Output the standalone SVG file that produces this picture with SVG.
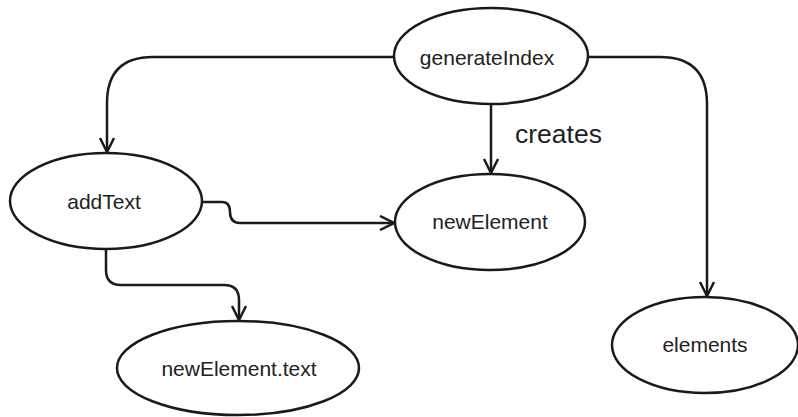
<svg xmlns="http://www.w3.org/2000/svg" width="798" height="417" viewBox="0 0 798 417">
<style>
.n ellipse{fill:#fff;stroke:#1a1a1a;stroke-width:2.5}
.n text{font-family:"Liberation Sans",Arial,sans-serif;font-size:21px;fill:#222;text-anchor:middle;dominant-baseline:central}
.c path{fill:none;stroke:#1a1a1a;stroke-width:2.5;marker-end:url(#ah)}
.lbl{font-family:"Liberation Sans",Arial,sans-serif;font-size:26.5px;fill:#222}
</style>
<defs>
<marker id="ah" viewBox="0 0 16 16" refX="15" refY="8" markerWidth="16" markerHeight="16" markerUnits="userSpaceOnUse" orient="auto">
<path d="M1,1 L15,8 L1,15" fill="none" stroke="#1a1a1a" stroke-width="2.5"/>
</marker>
</defs>
<g class="c" id="connectors">
<path d="M394,57 H153 Q107,57 107,103 V152"/>
<path d="M491,104 V173"/>
<path d="M588,57 H660 Q707,57 707,104 V296"/>
<path d="M202,202 H222 Q230,202 230,212 Q230,223 240,223 H394"/>
<path d="M106,249 V270 Q106,285 121,285 H224 Q239,285 239,300 V320"/>
</g>
<text class="lbl" x="515" y="143">creates</text>
<g class="n" id="generateIndex"><ellipse cx="491" cy="56" rx="97" ry="48"/><text x="487" y="57">generateIndex</text></g>
<g class="n" id="addText"><ellipse cx="106" cy="201" rx="96" ry="48"/><text x="104" y="201">addText</text></g>
<g class="n" id="newElement"><ellipse cx="490" cy="222" rx="95" ry="48"/><text x="490" y="221">newElement</text></g>
<g class="n" id="newElementText"><ellipse cx="238" cy="368" rx="121" ry="47"/><text x="239" y="368">newElement.text</text></g>
<g class="n" id="elements"><ellipse cx="705" cy="345" rx="93" ry="48"/><text x="705" y="344">elements</text></g>
</svg>
